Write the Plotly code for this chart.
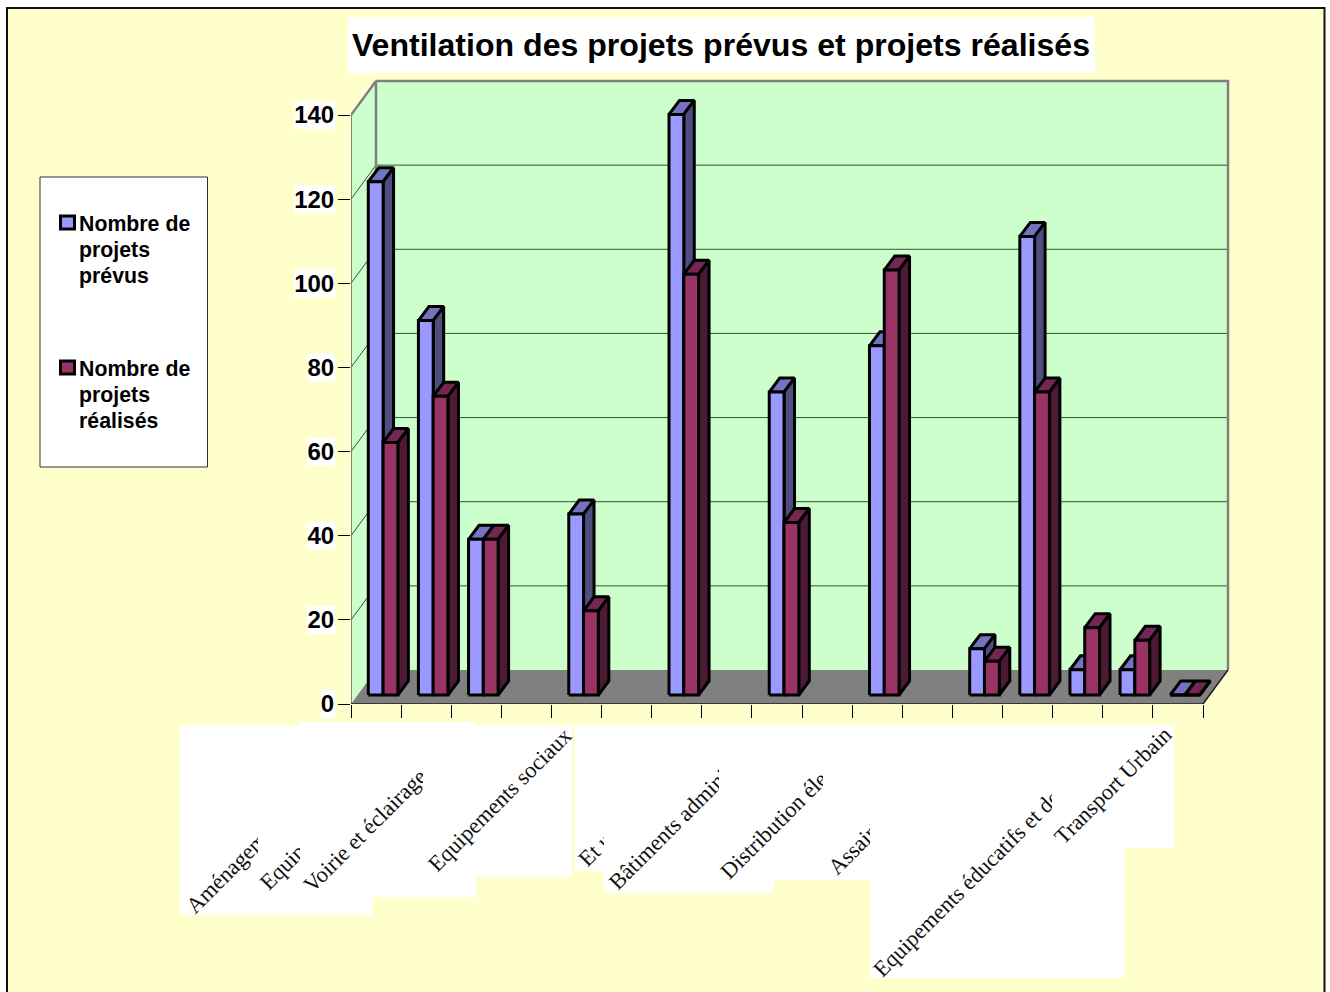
import plotly.graph_objects as go

TITLE = "Ventilation des projets prévus et projets réalisés"
SERIES_A = ["Nombre de", "projets", "prévus"]
SERIES_B = ["Nombre de", "projets", "réalisés"]
# 17 categories along the axis; None = no bar drawn
PREVUS = [122, 89, 37, None, 43, None, 138, None, 72, None, 83, None, 11, 109, 6, 6, 0]
REALISES = [60, 71, 37, None, 20, None, 100, None, 41, None, 101, None, 8, 72, 16, 13, 0]
Y_TICKS = [0, 20, 40, 60, 80, 100, 120, 140]
LABELS = ["Aménagem", "Equipe", "Voirie et éclairage", "Equipements sociaux", "Et u",
          "Bâtiments adminis", "Distribution élec", "Assaini",
          "Equipements éducatifs et de", "Transport Urbain"]
# label geometry in page pixels: mask box (x0, x1, y0, y1), text left, text bottom
LABEL_BOX = [(180, 372, 725, 915), (258, 300, 725, 893), (300, 476, 722, 897), (423, 572, 725, 877),
             (575, 604, 725, 871), (604, 773, 725, 893), (719, 823, 725, 880), (823, 870, 725, 880),
             (870, 1124, 725, 978), (1052, 1174, 725, 848)]
LABEL_POS = [(180, 920), (253, 896), (297, 898), (422, 878), (572, 873),
             (602, 896), (714, 885), (822, 881), (867, 983), (1048, 851)]

N = len(PREVUS)
PX_X = 852 / 17          # pixels per category
PX_Y = 589 / 140         # pixels per value unit
DX, DY = 25 / PX_X, 34 / PX_Y      # wall depth
BX, BY = 10.5 / PX_X, 14 / PX_Y    # bar depth
BASE = 9 / PX_Y          # bars stand on the floor, slightly behind the front edge
START, BW = 0.345, 0.295
L, T, R, B = 351, 75, 1234, 704    # plot area in page pixels (a little room beyond the walls)

def xp(X): return (X - L) / (R - L)
def yp(Y): return (B - Y) / (B - T)

C = dict(bf="#9999FF", bt="#7373C0", bs="#4D4D80", rf="#993366", rt="#732650", rs="#4D1A33")

def faces(vals, off):
    front, top, side = ([], []), ([], []), ([], [])
    for i, v in enumerate(vals):
        if v is None:
            continue
        x0, x1 = i + START + off, i + START + off + BW
        y0, y1 = BASE, BASE + v
        for store, xs, ys in (
            (top, [x0, x1, x1 + BX, x0 + BX, x0], [y1, y1, y1 + BY, y1 + BY, y1]),
            (side, [x1, x1 + BX, x1 + BX, x1, x1], [y0, y0 + BY, y1 + BY, y1, y0]),
            (front, [x0, x1, x1, x0, x0], [y0, y0, y1, y1, y0]),
        ):
            store[0].extend(xs + [None]); store[1].extend(ys + [None])
    return front, top, side

fig = go.Figure()
def poly(xs, ys, fill, line="rgba(0,0,0,0)", w=0, name=""):
    fig.add_trace(go.Scatter(x=xs, y=ys, mode="lines", fill="toself", fillcolor=fill, name=name,
                             line=dict(color=line, width=w), showlegend=False, hoverinfo="skip",
                             cliponaxis=False))
def seg(xs, ys, color, w):
    fig.add_trace(go.Scatter(x=xs, y=ys, mode="lines", line=dict(color=color, width=w),
                             showlegend=False, hoverinfo="skip", cliponaxis=False))

top_v = Y_TICKS[-1]
# walls and floor
poly([DX, N + DX, N + DX, DX, DX], [DY, DY, top_v + DY, top_v + DY, DY], "#CCFFCC")
poly([0, DX, DX, 0, 0], [0, DY, top_v + DY, top_v, 0], "#CCFFCC")
poly([0, N, N + DX, DX, 0], [0, 0, DY, DY, 0], "#808080")
# gridlines
for t in Y_TICKS[1:-1]:
    seg([0, DX, N + DX], [t, t + DY, t + DY], "#37503C", 1)
# wall outline
seg([DX, N + DX, N + DX], [top_v + DY, top_v + DY, DY], "#808080", 2.5)
seg([0, DX, DX], [top_v, top_v + DY, DY], "#808080", 2.5)
seg([0, 0], [0, top_v], "#606060", 1.5)
seg([0, N, N + DX], [0, 0, DY], "#202020", 1.5)

a_f, a_t, a_s = faces(PREVUS, 0)
r_f, r_t, r_s = faces(REALISES, BW)
for store, col, nm in ((a_t, C["bt"], "prévus"), (a_s, C["bs"], "prévus"), (a_f, C["bf"], "prévus"),
                       (r_t, C["rt"], "réalisés"), (r_s, C["rs"], "réalisés"), (r_f, C["rf"], "réalisés")):
    poly(store[0], store[1], col, "#000000", 3, nm)

shapes = []
def rect(x0, x1, y0, y1, fill, line=None, w=0):
    shapes.append(dict(type="rect", xref="paper", yref="paper", x0=xp(x0), x1=xp(x1), y0=yp(y1), y1=yp(y0),
                       fillcolor=fill, line=dict(color=line or "rgba(0,0,0,0)", width=w), layer="below"))
rect(7, 1324.5, 8, 1000, "#FFFFCC", "#101010", 2)
rect(348, 1095, 17, 73, "#FFFFFF")
for t in Y_TICKS:
    yc = B - t * PX_Y
    rect(294 if t >= 100 else (307 if t else 321), 335, yc - 14, yc + 14, "#FFFFFF")
# legend
rect(40, 207.5, 177, 467, "#FFFFFF", "#303030", 1)
rect(60.5, 74.5, 216, 229, C["bf"], "#000000", 3)
rect(60.5, 74.5, 361, 374, C["rf"], "#000000", 3)

ann = []
for lines, yy in ((SERIES_A, 224), (SERIES_B, 369)):
    for k, txt in enumerate(lines):
        ann.append(dict(text=txt, xref="paper", yref="paper", x=xp(77.5), y=yp(yy + 26 * k), xanchor="left",
                        yanchor="middle", align="left", showarrow=False, borderpad=0,
                        font=dict(family="Liberation Sans", size=21.3, weight=700, color="#000000")))
for txt, (x0, x1, y0, y1), (tx, ty) in zip(LABELS, LABEL_BOX, LABEL_POS):
    ann.append(dict(text=" ", xref="paper", yref="paper", x=xp(x0), y=yp(y0), xanchor="left", yanchor="top",
                    width=x1 - x0, height=y1 - y0, bgcolor="#FFFFFF", showarrow=False, borderpad=0, borderwidth=0))
    ann.append(dict(text=txt, xref="paper", yref="paper", x=xp(tx), y=yp(ty), xanchor="left", yanchor="bottom",
                    textangle=-45, showarrow=False, borderpad=0,
                    font=dict(family="Liberation Serif", size=22.5, color="#111111")))

fig.update_layout(
    width=1330, height=992, paper_bgcolor="#FFFFFF", plot_bgcolor="rgba(0,0,0,0)",
    margin=dict(l=L, r=1330 - R, t=T, b=992 - B, autoexpand=False),
    showlegend=False, shapes=shapes, annotations=ann,
    title=dict(text=TITLE, xref="container", yref="container", x=721 / 1330, y=1 - 45 / 992,
               xanchor="center", yanchor="middle",
               font=dict(family="Liberation Sans", size=32.1, weight=700, color="#000000")),
    xaxis=dict(range=[0, (R - L) / PX_X], tickmode="array", tickvals=list(range(N + 1)), ticktext=[""] * (N + 1),
               ticks="outside", ticklen=13, tickcolor="#000000", showgrid=False, zeroline=False, showline=False),
    yaxis=dict(range=[0, (B - T) / PX_Y], tickmode="array", tickvals=Y_TICKS, ticks="outside", ticklen=12,
               tickcolor="#000000", showgrid=False, zeroline=False, showline=False, ticklabelstandoff=-1,
               tickfont=dict(family="Liberation Sans", size=24, weight=700, color="#000000")),
)
fig.write_html("out.html", config=dict(displayModeBar=False),
               post_script="document.body.style.margin='0';document.body.style.overflow='hidden';")
